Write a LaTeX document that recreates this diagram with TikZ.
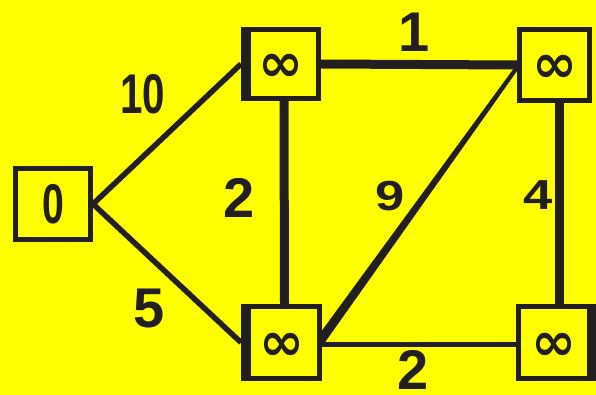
\documentclass[tikz,border=0pt]{standalone}
\usepackage{fontspec}
\usepackage{graphicx}
\setmainfont{Liberation Sans}
\newfontfamily\symfont{DejaVu Sans}
\definecolor{bg}{HTML}{FFFF00}
\definecolor{ink}{HTML}{231F20}
\newcommand{\infsym}{\raisebox{-4pt}[\height][\depth]{∞}}
\tikzset{
  box/.style={draw=ink, line width=5pt, fill=bg, rectangle, inner sep=0pt},
  inf/.style={font=\symfont\bfseries\fontsize{54}{54}\selectfont, text=ink},
  wlabel/.style={font=\bfseries\fontsize{56}{56}\selectfont, text=ink, inner sep=0pt},
  slabel/.style={font=\bfseries\fontsize{42}{42}\selectfont, text=ink, inner sep=0pt},
  edge/.style={draw=ink, line cap=butt},
}
\begin{document}
\begin{tikzpicture}[x=1pt,y=-1pt]
\fill[bg] (0,0) rectangle (596,395);
\useasboundingbox (0,0) rectangle (596,395);

% nodes
\node[box, minimum width=75pt, minimum height=71pt] (n0) at (53,204)
  {\scalebox{0.7}[1]{\bfseries\fontsize{56}{56}\selectfont\color{ink}0}};
\node[box, inf, minimum width=75pt, minimum height=69pt] (A) at (281,64) {\infsym};
\node[box, inf, minimum width=70pt, minimum height=71pt] (B) at (554.5,65) {\infsym};
\node[box, inf, minimum width=76pt, minimum height=72pt] (C) at (281.5,342.5) {\infsym};
\node[box, inf, minimum width=71pt, minimum height=72pt] (D) at (554,342.5) {\infsym};

% thicker sides
\draw[ink, line width=5pt] ([xshift=7.5pt,yshift=-3pt]A.north west) -- ([xshift=7.5pt,yshift=3pt]A.south west);
\draw[ink, line width=5pt] ([xshift=7.5pt,yshift=-3pt]C.north west) -- ([xshift=7.5pt,yshift=3pt]C.south west);
\draw[ink, line width=5pt] ([xshift=2.5pt]D.north east) -- ([xshift=2.5pt]D.south east);

% edges
\draw[edge, line width=5.5pt] (n0.east) -- (A.west);
\draw[edge, line width=5.5pt] (n0.east) -- (C.west);
\draw[edge, line width=9pt] (A.east) -- (B.west);
\draw[edge, line width=9pt] ([xshift=3pt]A.south) -- ([xshift=3pt]C.north);
\draw[edge, line width=9pt] ([xshift=4.5pt]B.south) -- ([xshift=5pt]D.north);
\draw[edge, line width=5pt] ([yshift=-2pt]C.east) -- ([yshift=-2pt]D.west);
\fill[ink] ([yshift=1pt]B.west) -- ([yshift=-6pt]B.west) -- ([yshift=-4pt]C.east) -- ([yshift=12pt]C.east) -- cycle;

% weights
\node[wlabel] (w10) at (143,94) {\scalebox{0.72}[1]{10}};
\node[wlabel] (w1) at (414,32) {1};
\node[wlabel] (w2a) at (239,198) {2};
\node[slabel] (w9) at (390,196) {\scalebox{1.25}[1]{9}};
\node[slabel] (w4) at (538,195) {\scalebox{1.25}[1]{4}};
\node[wlabel] (w5) at (149,309) {5};
\node[wlabel] (w2b) at (413,370) {2};
\end{tikzpicture}
\end{document}
